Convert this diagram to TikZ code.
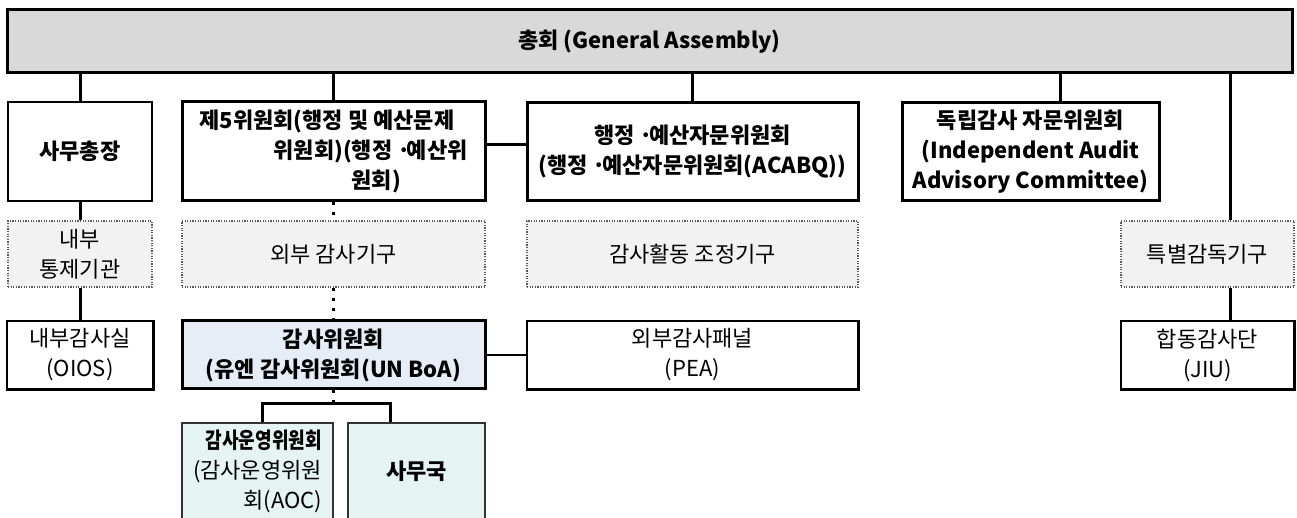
\documentclass[tikz,border=0pt]{standalone}
\usepackage{fontspec}
\setmainfont{Noto Sans CJK KR}
\usepackage{graphicx}
\usepackage{xcolor}
\definecolor{barfill}{HTML}{D9D9D9}
\definecolor{dotfill}{HTML}{F2F2F2}
\definecolor{boafill}{HTML}{E7EDF7}
\definecolor{subfill}{HTML}{E5F3F3}
\newcommand{\mdot}{\kern2.5pt·\kern-2pt}

\begin{document}
\begin{tikzpicture}[x=0.5pt,y=-0.5pt]
\tikzstyle{lbl}=[font=\fontsize{11}{15}\selectfont, align=center, inner sep=0pt]
\tikzstyle{box}=[lbl, draw, line width=0.7pt, fill=white]
\tikzstyle{heavy}=[lbl, draw, line width=1.5pt, fill=white, font=\fontsize{11}{15}\selectfont\bfseries]
\tikzstyle{dotbox}=[lbl, draw=black!65, line width=0.6pt, dash pattern=on 0.6pt off 0.7pt, fill=dotfill]
\tikzstyle{subbox}=[lbl, draw=black!80, line width=0.6pt, fill=subfill]
\tikzstyle{link}=[line width=1.5pt]
\tikzstyle{dotlink}=[line width=1.5pt, dash pattern=on 1.5pt off 3.5pt]
\useasboundingbox (0,0) rectangle (1297,518);

\node[heavy, fill=barfill, minimum width=642.5pt, minimum height=31.5pt] (ga) at (649.5,41.5) {총회 (General Assembly)};

\node[box, font=\fontsize{11}{15}\selectfont\bfseries, minimum width=72pt, minimum height=49.5pt] (sg) at (80,151.5) {사무총장};
\node[heavy, align=left, minimum width=151.5pt, minimum height=49.5pt] (fifth) at (333.5,151.5) {제5위원회(행정 및 예산문제\\\hspace*{37pt}위원회)(행정\mdot 예산위\\\hspace*{76pt}원회)};
\node[heavy, minimum width=165.5pt, minimum height=49pt] (acabq) at (692.5,152) {행정\mdot 예산자문위원회\\(행정\mdot 예산자문위원회(ACABQ))};
\node[heavy, minimum width=128.5pt, minimum height=49pt] (iaac) at (1030.5,152) {독립감사 자문위원회\\(Independent Audit\\Advisory Committee)};

\node[dotbox, minimum width=72pt, minimum height=33pt] (ictrl) at (80,254) {내부\\통제기관};
\node[dotbox, minimum width=151.5pt, minimum height=33pt] (extaud) at (333.5,254) {외부 감사기구};
\node[dotbox, minimum width=165.5pt, minimum height=33pt] (coord) at (692.5,254) {감사활동 조정기구};
\node[dotbox, minimum width=86.5pt, minimum height=33pt] (special) at (1207.5,254) {특별감독기구};

\node[box, minimum width=73pt, minimum height=34pt] (oios) at (80,355) {내부감사실\\(OIOS)};
\node[heavy, fill=boafill, minimum width=151.5pt, minimum height=34pt] (boa) at (333.5,355) {감사위원회\\(유엔 감사위원회(UN BoA)};
\node[box, minimum width=165.5pt, minimum height=34pt] (pea) at (692.5,355) {외부감사패널\\(PEA)};
\node[box, minimum width=86.5pt, minimum height=34pt] (jiu) at (1207.5,355) {합동감사단\\(JIU)};

\node[subbox, align=right, minimum width=75.5pt, minimum height=48.5pt] (aoc) at (257.5,471.5) {\scalebox{0.82}[1]{\bfseries 감사운영위원회}\\(감사운영위원\\회(AOC)};
\node[subbox, font=\fontsize{11}{15}\selectfont\bfseries, minimum width=68.5pt, minimum height=48.5pt] (secr) at (416.5,471.5) {사무국};

% heavier right and bottom edges
\foreach \n in {oios,pea,jiu}
  \draw[line width=1.3pt] (\n.north east) -- (\n.south east) -- (\n.south west);

% from the assembly
\draw[link] (sg.north) -- (sg.north |- ga.south);
\draw[link] (fifth.north) -- (fifth.north |- ga.south);
\draw[link] (acabq.north) -- (acabq.north |- ga.south);
\draw[link] ([xshift=15pt]iaac.north) -- ([xshift=15pt]iaac.north |- ga.south);
\draw[link] ([xshift=11.25pt]special.north) -- ([xshift=11.25pt]special.north |- ga.south);
\draw[link] ([xshift=11.25pt]special.south) -- ([xshift=11.25pt]jiu.north);

\path[link]
(sg) edge (ictrl)
(ictrl) edge (oios);
\draw[link] ([yshift=3.5pt]fifth.east) -- ([yshift=3.5pt]fifth.east -| acabq.west);
\draw[line width=0.8pt] (boa.east) -- (pea.west);

\path[dotlink]
(fifth) edge (extaud)
(extaud) edge (boa);

\coordinate (fork) at ([yshift=-6.5pt]boa.south);
\draw[dotlink] (boa.south) -- (fork);
\draw[link] ([xshift=2.25pt]aoc.north) |- (fork) -| ([xshift=-13.25pt]secr.north);
\end{tikzpicture}
\end{document}
